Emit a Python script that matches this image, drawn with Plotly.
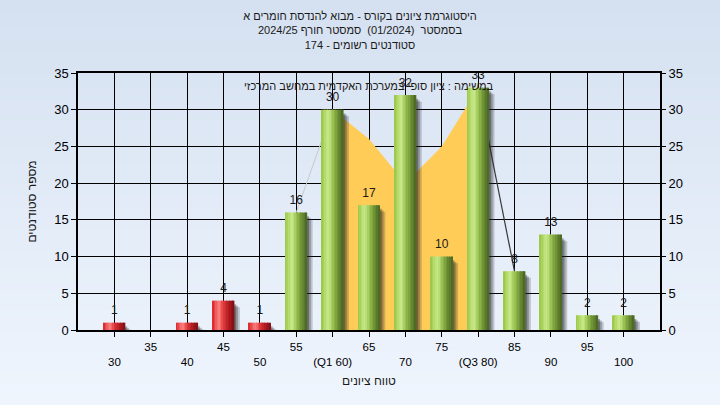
import plotly.graph_objects as go

# ---------------- data ----------------
grades = [30, 35, 40, 45, 50, 55, 60, 65, 70, 75, 80, 85, 90, 95, 100]
counts = [1, 0, 1, 4, 1, 16, 30, 17, 32, 10, 33, 8, 13, 2, 2]
tick_text = ["30", "35", "40", "45", "50", "55", "(Q1 60)", "65", "70", "75",
             "(Q3 80)", "85", "90", "95", "100"]
pass_grade = 55
q1, q3 = 60, 80
curve_grades = [55, 60, 65, 70, 75, 80, 85]
curve_values = [16, 30, 26, 20, 25, 33, 8]

title_lines = ["היסטוגרמת ציונים בקורס - מבוא להנדסת חומרים א",
               "בסמסטר  (01/2024)  סמסטר חורף 2024/25",
               "סטודנטים רשומים - 174"]
legend_text = "במשימה : ציון סופי במערכת האקדמית במחשב המרכזי"
x_title = "טווח ציונים"
y_title = "מספר סטודנטים"

# ---------------- style ----------------
W, H = 720, 405
ML, MR, MT, MB = 78, 60, 73, 75
FONT = "Liberation Sans, Arial, sans-serif"
TXT = "#1a1a1a"
BAR_W = 3.0
N_SLICES = 14

green_stops = [(0.0, (150, 196, 70)), (0.22, (188, 224, 118)), (0.34, (200, 232, 138)),
               (0.5, (160, 200, 86)), (0.75, (112, 148, 54)), (1.0, (72, 100, 34))]
red_stops = [(0.0, (215, 35, 38)), (0.22, (245, 105, 108)), (0.34, (250, 125, 125)),
             (0.5, (225, 60, 62)), (0.75, (178, 28, 32)), (1.0, (125, 14, 20))]


def interp(stops, t):
    for (t0, c0), (t1, c1) in zip(stops[:-1], stops[1:]):
        if t0 <= t <= t1:
            f = (t - t0) / (t1 - t0) if t1 > t0 else 0
            c = [round(a + (b - a) * f) for a, b in zip(c0, c1)]
            return "rgb(%d,%d,%d)" % tuple(c)
    c = stops[-1][1]
    return "rgb(%d,%d,%d)" % c


fig = go.Figure()

# --- quartile area and tail lines (base subplot, beneath bars) ---
area_x = [g for g in curve_grades if q1 <= g <= q3]
area_y = [v for g, v in zip(curve_grades, curve_values) if q1 <= g <= q3]
fig.add_trace(go.Scatter(x=area_x, y=area_y, fill="tozeroy", mode="lines",
                         line=dict(width=0, color="#FFCC58"), fillcolor="#FFCC58",
                         hoverinfo="skip", showlegend=False, xaxis="x", yaxis="y"))
low_x = [g for g in curve_grades if g <= q1]
low_y = [v for g, v in zip(curve_grades, curve_values) if g <= q1]
fig.add_trace(go.Scatter(x=low_x, y=low_y, mode="lines",
                         line=dict(width=1, color="#c9c9c9"),
                         hoverinfo="skip", showlegend=False, xaxis="x", yaxis="y"))
hi_x = [g for g in curve_grades if g >= q3]
hi_y = [v for g, v in zip(curve_grades, curve_values) if g >= q3]
fig.add_trace(go.Scatter(x=hi_x, y=hi_y, mode="lines",
                         line=dict(width=1.2, color="#3a3a3a"),
                         hoverinfo="skip", showlegend=False, xaxis="x", yaxis="y"))

# --- bar shadows ---
for dx, dy, col in [(0.75, 0.9, "rgba(40,40,40,0.22)"),
                    (0.5, 0.7, "rgba(40,40,40,0.28)"),
                    (0.25, 0.5, "rgba(30,30,30,0.35)")]:
    fig.add_trace(go.Bar(x=grades, y=[max(c - dy, 0) if c > 0 else 0 for c in counts],
                         width=BAR_W, offset=-BAR_W / 2 + dx,
                         marker=dict(color=col, line=dict(width=0)),
                         hoverinfo="skip", showlegend=False, xaxis="x", yaxis="y2"))

# --- cylinder bars built from thin slices ---
sw = BAR_W / N_SLICES
for i in range(N_SLICES):
    t = (i + 0.5) / N_SLICES
    cols = [interp(red_stops, t) if g < pass_grade else interp(green_stops, t) for g in grades]
    fig.add_trace(go.Bar(x=grades, y=counts, width=sw * 1.02,
                         offset=-BAR_W / 2 + i * sw,
                         marker=dict(color=cols, line=dict(width=0)),
                         hoverinfo="skip", showlegend=False, xaxis="x", yaxis="y2"))

# --- value labels ---
fig.add_trace(go.Scatter(x=grades, y=counts, mode="markers+text",
                         marker=dict(size=7, opacity=0),
                         text=[str(c) if c > 0 else "" for c in counts],
                         textposition="top center",
                         textfont=dict(family=FONT, size=12, color=TXT),
                         hoverinfo="skip", showlegend=False, xaxis="x", yaxis="y2"))

# --- page gradient background ---
pw = W - ML - MR
ph = H - MT - MB
top_rgb = (213, 225, 241)
bot_rgb = (239, 245, 253)
NB = 60
for k in range(NB):
    f = k / (NB - 1)
    c = tuple(round(a + (b - a) * f) for a, b in zip(top_rgb, bot_rgb))
    y_top_px = H * k / NB
    y_bot_px = H * (k + 1) / NB + 1
    fig.add_shape(type="rect", xref="paper", yref="paper", layer="below",
                  x0=-ML / pw, x1=1 + MR / pw,
                  y0=1 - (y_bot_px - MT) / ph, y1=1 - (y_top_px - MT) / ph,
                  fillcolor="rgb(%d,%d,%d)" % c, line=dict(width=0))

staggered = [("<br>" + t) if i % 2 == 0 else t for i, t in enumerate(tick_text)]

fig.update_layout(
    width=W, height=H,
    margin=dict(l=ML, r=MR, t=MT, b=MB),
    paper_bgcolor="rgb(239,245,253)",
    plot_bgcolor="#B4B4B4",
    barmode="overlay",
    hovermode=False,
    font=dict(family=FONT, size=12, color=TXT),
    title=dict(text="<br>".join(title_lines), x=0.5, xanchor="center",
               y=1 - 20 / H, yanchor="top", yref="container",
               font=dict(family=FONT, size=11, color=TXT)),
    xaxis=dict(range=[25, 105], tickmode="array", tickvals=grades, ticktext=staggered,
               showgrid=True, gridcolor="black", gridwidth=1.2, zeroline=False,
               ticks="outside", ticklen=5, tickcolor="black",
               showline=True, linecolor="black", linewidth=1.5, mirror=True,
               tickfont=dict(family=FONT, size=11.5, color="black"),
               title=dict(text=x_title, standoff=10,
                          font=dict(family=FONT, size=12, color=TXT))),
    yaxis=dict(range=[0, 35], tick0=0, dtick=5, showgrid=True, gridcolor="black",
               gridwidth=1.2, zeroline=False, ticks="outside", ticklen=5,
               tickcolor="black", showline=True, linecolor="black", linewidth=1.5,
               mirror=True, tickfont=dict(family=FONT, size=13, color="black"),
               title=dict(text=y_title, standoff=15,
                          font=dict(family=FONT, size=12, color=TXT))),
    yaxis2=dict(range=[0, 35], tick0=0, dtick=5, overlaying="y", side="right",
                showgrid=False, zeroline=False, ticks="outside", ticklen=5,
                tickcolor="black", showline=False,
                tickfont=dict(family=FONT, size=13, color="black")),
    annotations=[dict(text=legend_text, xref="paper", yref="paper", x=0.5, y=0.95,
                      xanchor="center", yanchor="middle", showarrow=False,
                      font=dict(family=FONT, size=11, color=TXT))],
)

fig.write_html("out.html", config={"displayModeBar": False},
               post_script="document.body.style.margin='0px';")
